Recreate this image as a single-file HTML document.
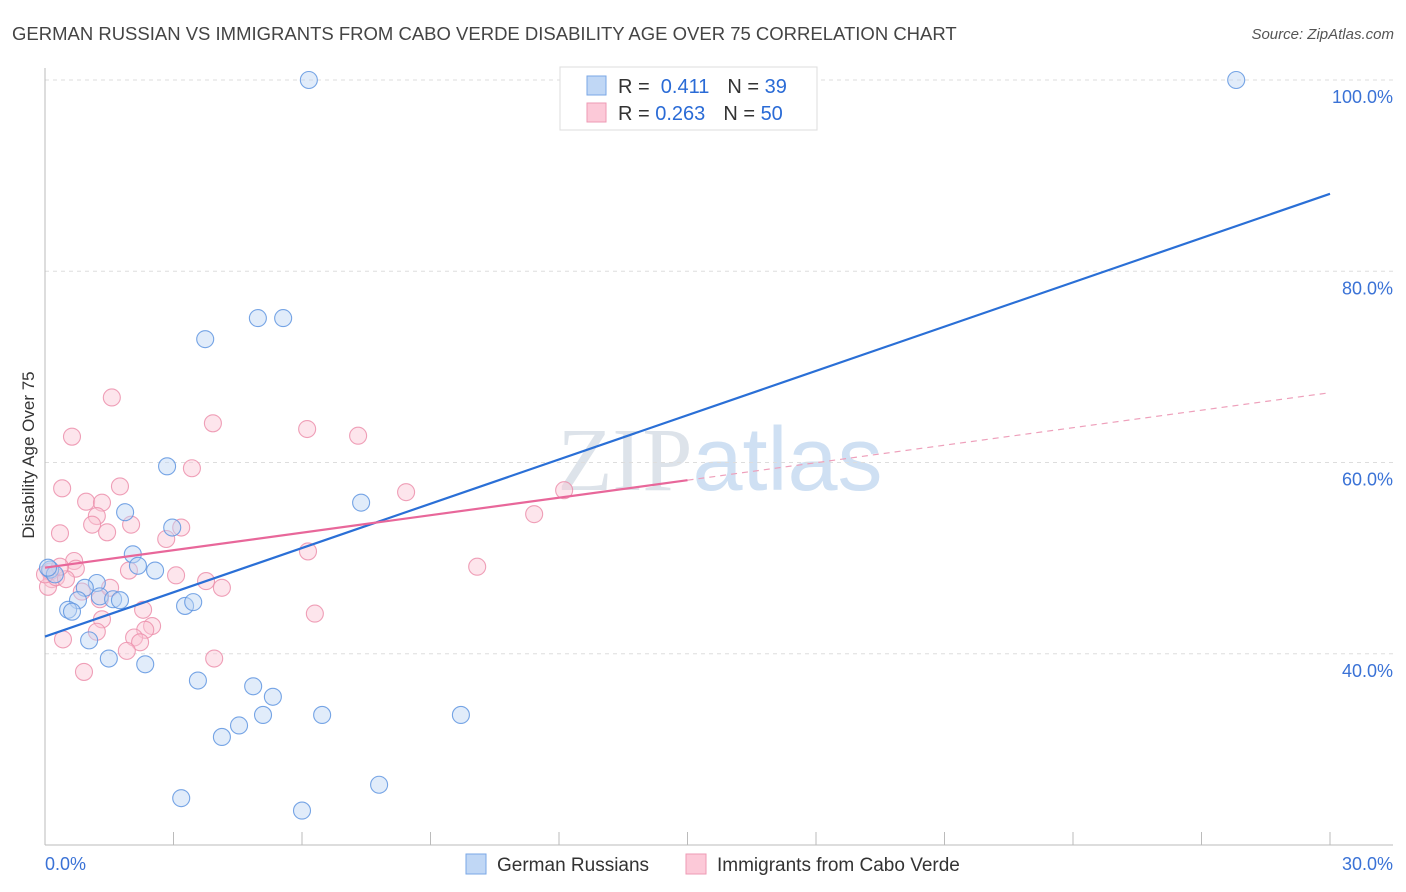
<!DOCTYPE html>
<html><head><meta charset="utf-8"><style>
body{margin:0;background:#fff;font-family:"Liberation Sans",sans-serif;}
</style></head><body>
<svg width="1406" height="892" style="display:block">
<text x="12" y="40" font-size="18.5" fill="#444">GERMAN RUSSIAN VS IMMIGRANTS FROM CABO VERDE DISABILITY AGE OVER 75 CORRELATION CHART</text>
<text x="1394" y="39" font-size="15" fill="#555" font-style="italic" text-anchor="end">Source: ZipAtlas.com</text>
<text x="720" y="490" font-size="90" fill="#dde3ea" text-anchor="middle" font-family="Liberation Serif">ZIP<tspan fill="#cfe0f3" font-family="Liberation Sans">atlas</tspan></text>
<g id="grid"></g>
<g id="axes"></g>
<g id="marks"></g>
<text transform="translate(34,455) rotate(-90)" font-size="17" fill="#333" text-anchor="middle">Disability Age Over 75</text>
<g>
<rect x="560" y="67" width="257" height="63" fill="#fff" stroke="#ddd"/>
<rect x="587" y="76" width="19" height="19" fill="#c0d7f5" stroke="#7aa7e6"/>
<rect x="587" y="103" width="19" height="19" fill="#fcc9d8" stroke="#ee9ab4"/>
<text x="618" y="93" font-size="20" fill="#333">R = <tspan fill="#2a6bd6">&#160;0.411</tspan><tspan dx="18">N = </tspan><tspan fill="#2a6bd6"> 39</tspan></text>
<text x="618" y="120" font-size="20" fill="#333">R = <tspan fill="#2a6bd6">0.263</tspan><tspan dx="18">N = </tspan><tspan fill="#2a6bd6">50</tspan></text>
</g>
<g>
<rect x="466" y="854" width="20" height="20" fill="#c0d7f5" stroke="#7aa7e6"/>
<text x="497" y="871" font-size="19" fill="#333">German Russians</text>
<rect x="686" y="854" width="20" height="20" fill="#fcc9d8" stroke="#ee9ab4"/>
<text x="717" y="871" font-size="19" fill="#333">Immigrants from Cabo Verde</text>
</g>
</svg>
<script>
const yTicks=[40,60,80,100];
const yTickLabels=["40.0%","60.0%","80.0%","100.0%"];
const xTicks=[0,3,6,9,12,15,18,21,24,27,30];
const blueX=[6.16,27.81,4.97,5.56,3.74,2.85,7.38,1.87,2.97,2.05,2.17,2.57,1.21,0.93,1.28,1.59,1.75,0.77,0.54,0.63,3.27,3.46,1.03,1.49,2.34,3.57,4.86,5.32,5.09,6.47,9.71,4.53,4.13,7.80,3.18,6.00,0.12,0.23,0.07];
const blueY=[100,100,75.1,75.1,72.9,59.6,55.8,54.8,53.2,50.4,49.2,48.7,47.4,46.9,46.0,45.7,45.6,45.6,44.6,44.4,45.0,45.4,41.4,39.5,38.9,37.2,36.6,35.5,33.6,33.6,33.6,32.5,31.3,26.3,24.9,23.6,48.8,48.3,49.0];
const pinkX=[1.56,0.63,3.92,6.12,7.31,3.43,0.40,1.75,0.96,1.33,8.43,12.12,1.21,1.10,2.01,1.45,3.18,0.35,11.42,2.83,6.14,0.68,0.72,1.96,3.06,3.76,4.13,0.86,1.28,10.09,1.33,1.21,6.30,2.50,2.34,2.08,2.22,0.42,1.91,3.95,0.91,0.16,0.07,0.12,0.26,0.49,0.0,0.35,1.52,2.29];
const pinkY=[66.8,62.7,64.1,63.5,62.8,59.4,57.3,57.5,55.9,55.8,56.9,57.1,54.4,53.5,53.5,52.7,53.2,52.6,54.6,52.0,50.7,49.7,48.9,48.7,48.2,47.6,46.9,46.5,45.7,49.1,43.6,42.3,44.2,42.9,42.5,41.7,41.2,41.5,40.3,39.5,38.1,47.8,47.0,48.6,48.0,47.8,48.3,49.1,46.9,44.6];
const blueTrend=[41.8,88.1];
const pinkTrend=[49.0,67.3];
const pinkSolidEnd=15;

const NS="http://www.w3.org/2000/svg";
const X0=45,X1=1330,Y0=845,Y1=80;
function sx(v){return X0+(v-0)/30*(X1-X0);}
function sy(v){return Y0-(v-20)/80*(Y0-Y1);}
function mk(tag,attrs,parent){const e=document.createElementNS(NS,tag);for(const k in attrs)e.setAttribute(k,attrs[k]);parent.appendChild(e);return e;}
const grid=document.getElementById('grid'),axes=document.getElementById('axes'),marks=document.getElementById('marks');
yTicks.forEach((t,i)=>{
  const l=mk('line',{x1:X0,x2:1393,y1:sy(t),y2:sy(t),stroke:'#ddd','stroke-dasharray':'4,4'},grid);
  
  
  const tx=mk('text',{x:1393,y:sy(t)+23,'font-size':18,fill:'#3a72d6','text-anchor':'end'},axes);
  tx.textContent=yTickLabels[i];
  
  
});
let a=mk('line',{x1:X0,x2:X0,y1:68,y2:Y0,stroke:'#bbb'},axes);


a=mk('line',{x1:X0,x2:1393,y1:Y0,y2:Y0,stroke:'#bbb'},axes);


xTicks.forEach(t=>{
  if(t===0)return;
  const l=mk('line',{x1:sx(t),x2:sx(t),y1:Y0-13,y2:Y0,stroke:'#bbb'},axes);
  
  
});
let t=mk('text',{x:45,y:870,'font-size':18,fill:'#3a72d6'},axes);t.textContent='0.0%';


t=mk('text',{x:1393,y:870,'font-size':18,fill:'#3a72d6','text-anchor':'end'},axes);t.textContent='30.0%';



function dots(xs,ys,fill,stroke,name){
  xs.forEach((x,i)=>{
    const c=mk('circle',{cx:sx(x),cy:sy(ys[i]),r:8.5,fill:fill,'fill-opacity':0.45,stroke:stroke,'stroke-width':1.1,'stroke-opacity':0.85},marks);
    
    
  });
}
dots(pinkX,pinkY,'#fbc6d5','#ec8fab','point-cabo-verde');
dots(blueX,blueY,'#bcd5f4','#5f95e0','point-german-russian');
let ln=mk('line',{x1:sx(0),y1:sy(blueTrend[0]),x2:sx(30),y2:sy(blueTrend[1]),stroke:'#2a6fd6','stroke-width':2.2},marks);


const pm=pinkTrend[0]+(pinkTrend[1]-pinkTrend[0])*pinkSolidEnd/30;
ln=mk('line',{x1:sx(0),y1:sy(pinkTrend[0]),x2:sx(pinkSolidEnd),y2:sy(pm),stroke:'#e8679a','stroke-width':2.2},marks);


ln=mk('line',{x1:sx(pinkSolidEnd),y1:sy(pm),x2:sx(30),y2:sy(pinkTrend[1]),stroke:'#eea0bb','stroke-width':1.2,'stroke-dasharray':'6,5'},marks);


</script>
</body></html>
